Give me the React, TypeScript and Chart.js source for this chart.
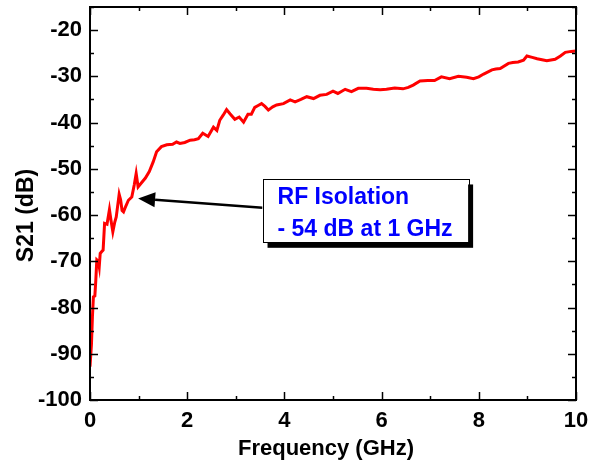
import React, { useEffect, useRef } from 'react';
import { Chart, registerables } from 'chart.js';

Chart.register(...registerables);

// Frequency (GHz)
const frequencyGHz = [
  0.0, 0.03, 0.05, 0.07, 0.1, 0.12, 0.14, 0.17, 0.19, 0.21, 0.25, 0.27, 0.3, 0.35, 0.4, 0.43, 0.47,
  0.51, 0.54, 0.6, 0.63, 0.66, 0.69, 0.74, 0.79, 0.86, 0.91, 0.95, 0.99, 1.06, 1.14, 1.22, 1.3,
  1.37, 1.47, 1.58, 1.7, 1.78, 1.85, 1.95, 2.06, 2.15, 2.23, 2.32, 2.43, 2.54, 2.61, 2.67, 2.74,
  2.81, 2.88, 2.98, 3.07, 3.16, 3.25, 3.32, 3.39, 3.46, 3.53, 3.6, 3.67, 3.76, 3.84, 3.98, 4.12,
  4.22, 4.34, 4.46, 4.6, 4.73, 4.87, 5.0, 5.1, 5.25, 5.38, 5.52, 5.69, 5.83, 5.97, 6.1, 6.27,
  6.44, 6.55, 6.65, 6.79, 6.95, 7.09, 7.23, 7.4, 7.58, 7.75, 7.89, 8.0, 8.1, 8.27, 8.35, 8.44,
  8.61, 8.7, 8.81, 8.92, 8.99, 9.1, 9.2, 9.3, 9.4, 9.57, 9.68, 9.78, 9.9, 10.0,
];

// S21 (dB)
const s21dB = [
  -92.8, -88, -82, -77.7, -77.5, -74, -69.7, -70, -71.2, -68.3, -67.8, -67.6, -61.8, -62, -58.8, -61, -63.6,
  -61.5, -60.4, -55.5, -56.7, -59, -59.3, -58, -56.8, -56.1, -53.5, -51.0, -53.9, -53.0, -52, -50.6, -48.5,
  -46.3, -45.2, -44.8, -44.7, -44.2, -44.5, -44.3, -43.8, -43.7, -43.5, -42.3, -43.0, -41.0, -41.7, -39.5, -38.4,
  -37.2, -38.1, -39.3, -38.8, -39.9, -38.2, -38.2, -36.7, -36.3, -35.9, -36.5, -37.3, -36.6, -36.2, -35.9, -35.1,
  -35.5, -35.0, -34.4, -34.8, -34.1, -33.9, -33.2, -33.7, -32.8, -33.3, -32.6, -32.6, -32.8, -32.9, -32.8, -32.5,
  -32.7, -32.4, -31.9, -31.0, -30.9, -30.9, -30.1, -30.5, -30.0, -30.2, -30.5, -30.1, -29.5, -28.6, -28.4, -28.3,
  -27.2, -27.0, -26.9, -26.5, -25.6, -25.9, -26.2, -26.4, -26.6, -26.3, -25.6, -24.8, -24.6, -24.5,
];

const xMajorTicks = [0, 2, 4, 6, 8, 10];
const xMinorTicks = [1, 3, 5, 7, 9];
const yMajorTicks = [-100, -90, -80, -70, -60, -50, -40, -30, -20];
const yMinorTicks = [-95, -85, -75, -65, -55, -45, -35, -25, -15];

const xTitle = 'Frequency (GHz)';
const yTitle = 'S21 (dB)';
const annotationLines = ['RF Isolation', '- 54 dB at 1 GHz'];
// arrow tip (data coords) pointing at the 1 GHz value
const arrowTip = { x: 0.99, y: -56.4 };
const arrowTail = { x: 3.55, y: -58.4 };
const boxCorners = { x1: 3.55, y1: -52.3, x2: 7.78, y2: -66.0 };

const FONT = '"Liberation Sans", Arial, sans-serif';

const framePlugin = {
  id: 'frameTicks',
  afterDraw(chart: any) {
    const { ctx, chartArea: a, scales } = chart;
    const x = scales.x;
    const y = scales.y;
    ctx.save();
    ctx.strokeStyle = '#000';
    ctx.lineWidth = 1.5;
    const seg = (x1: number, y1: number, x2: number, y2: number) => {
      ctx.beginPath();
      ctx.moveTo(x1, y1);
      ctx.lineTo(x2, y2);
      ctx.stroke();
    };
    const xt = (v: number, len: number) => {
      const px = Math.round(x.getPixelForValue(v)) + 0.5;
      seg(px, a.bottom, px, a.bottom - len);
      seg(px, a.top, px, a.top + len);
    };
    const yt = (v: number, len: number) => {
      const py = Math.round(y.getPixelForValue(v)) + 0.5;
      seg(a.left, py, a.left + len, py);
      seg(a.right, py, a.right - len, py);
    };
    xMajorTicks.forEach((v) => xt(v, 8));
    xMinorTicks.forEach((v) => xt(v, 4));
    yMajorTicks.forEach((v) => yt(v, 8));
    yMinorTicks.forEach((v) => yt(v, 4));

    ctx.lineWidth = 2;
    ctx.strokeRect(a.left, a.top, a.right - a.left, a.bottom - a.top);

    // axis titles
    ctx.fillStyle = '#000';
    ctx.textAlign = 'center';
    ctx.textBaseline = 'middle';
    ctx.font = `bold 22px ${FONT}`;
    ctx.fillText(xTitle, (a.left + a.right) / 2 - 7, a.bottom + 49);

    ctx.save();
    ctx.translate(27, (a.top + a.bottom) / 2 + 12);
    ctx.rotate(-Math.PI / 2);
    ctx.font = `bold 23px ${FONT}`;
    ctx.fillText(yTitle, 0, 0);
    ctx.restore();

    // arrow
    const tx = x.getPixelForValue(arrowTip.x);
    const ty = y.getPixelForValue(arrowTip.y);
    const sx = x.getPixelForValue(arrowTail.x);
    const sy = y.getPixelForValue(arrowTail.y);
    const ang = Math.atan2(ty - sy, tx - sx);
    const headLen = 17;
    const headHalf = 7.5;
    const bx = tx - headLen * Math.cos(ang);
    const by = ty - headLen * Math.sin(ang);
    ctx.strokeStyle = '#000';
    ctx.lineWidth = 2.5;
    seg(sx, sy, bx, by);
    ctx.fillStyle = '#000';
    ctx.beginPath();
    ctx.moveTo(tx, ty);
    ctx.lineTo(bx - headHalf * Math.sin(ang), by + headHalf * Math.cos(ang));
    ctx.lineTo(bx + headHalf * Math.sin(ang), by - headHalf * Math.cos(ang));
    ctx.closePath();
    ctx.fill();

    // annotation box
    const l = x.getPixelForValue(boxCorners.x1);
    const r = x.getPixelForValue(boxCorners.x2);
    const t = y.getPixelForValue(boxCorners.y1);
    const b = y.getPixelForValue(boxCorners.y2);
    ctx.fillStyle = '#000';
    ctx.fillRect(l + 5, t + 5, r - l, b - t);
    ctx.fillStyle = '#fff';
    ctx.fillRect(l, t, r - l, b - t);
    ctx.lineWidth = 1;
    ctx.strokeStyle = '#000';
    ctx.strokeRect(Math.round(l) + 0.5, Math.round(t) + 0.5, Math.round(r - l), Math.round(b - t));
    ctx.fillStyle = '#0000ff';
    ctx.font = `bold 23px ${FONT}`;
    ctx.textAlign = 'left';
    ctx.textBaseline = 'middle';
    const h = b - t;
    ctx.fillText(annotationLines[0], l + 15, t + h * 0.28);
    ctx.fillText(annotationLines[1], l + 15, t + h * 0.8);
    ctx.restore();
  },
};

export default function App() {
  const ref = useRef<HTMLCanvasElement | null>(null);
  useEffect(() => {
    if (!ref.current) return;
    const chart = new Chart(ref.current, {
      type: 'line',
      data: {
        datasets: [
          {
            data: frequencyGHz.map((f, i) => ({ x: f, y: s21dB[i] })),
            borderColor: '#ff0000',
            borderWidth: 3,
            pointRadius: 0,
            tension: 0,
            fill: false,
          },
        ],
      },
      options: {
        animation: false,
        responsive: false,
        devicePixelRatio: 1,
        layout: { padding: { top: 7, right: 13, left: 0, bottom: 0 } },
        plugins: { legend: { display: false }, tooltip: { enabled: false } },
        scales: {
          x: {
            type: 'linear',
            min: 0,
            max: 10,
            afterFit: (s: any) => {
              s.height = 67;
              s.paddingLeft = 0;
              s.paddingRight = 0;
            },
            afterBuildTicks: (s: any) => {
              s.ticks = xMajorTicks.map((v) => ({ value: v }));
            },
            grid: { display: false, drawTicks: false },
            border: { display: false },
            ticks: {
              color: '#000',
              padding: 8,
              maxRotation: 0,
              font: { family: FONT, size: 22, weight: 'bold' },
            },
          },
          y: {
            type: 'linear',
            min: -100,
            max: -15,
            afterFit: (s: any) => {
              s.width = 90;
              s.paddingTop = 0;
              s.paddingBottom = 0;
            },
            afterBuildTicks: (s: any) => {
              s.ticks = yMajorTicks.map((v) => ({ value: v }));
            },
            grid: { display: false, drawTicks: false },
            border: { display: false },
            ticks: {
              color: '#000',
              padding: 8,
              font: { family: FONT, size: 22, weight: 'bold' },
            },
          },
        },
      },
      plugins: [framePlugin],
    } as any);
    return () => chart.destroy();
  }, []);
  return (
    <div style={{ position: 'fixed', left: 0, top: 0, width: 589, height: 467, background: '#fff' }}>
      <canvas ref={ref} width={589} height={467} style={{ display: 'block' }} />
    </div>
  );
}
